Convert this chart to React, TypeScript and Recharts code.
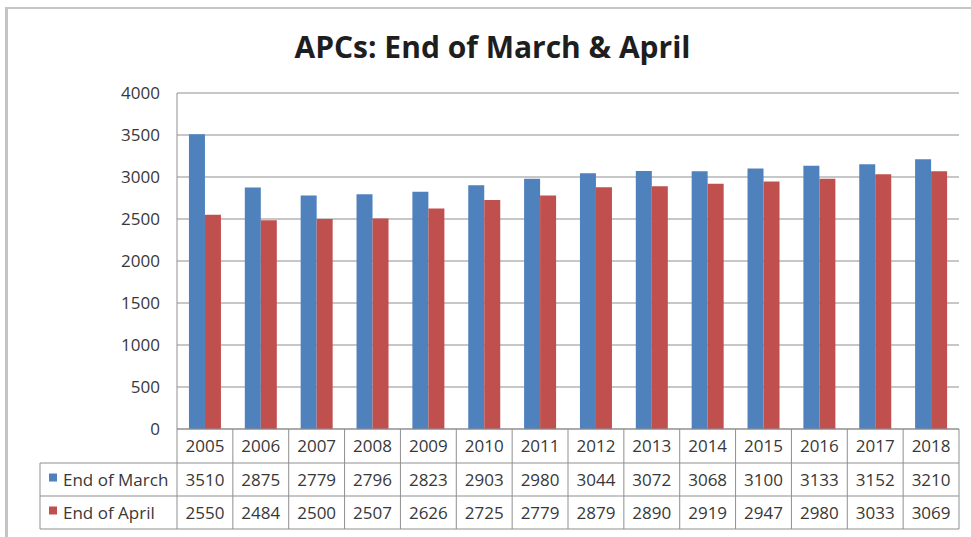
import { BarChart, Bar, YAxis, CartesianGrid } from 'recharts'

const years = ['2005', '2006', '2007', '2008', '2009', '2010', '2011', '2012', '2013', '2014', '2015', '2016', '2017', '2018']
const endOfMarch = [3510, 2875, 2779, 2796, 2823, 2903, 2980, 3044, 3072, 3068, 3100, 3133, 3152, 3210]
const endOfApril = [2550, 2484, 2500, 2507, 2626, 2725, 2779, 2879, 2890, 2919, 2947, 2980, 3033, 3069]
const yTicks = [0, 500, 1000, 1500, 2000, 2500, 3000, 3500, 4000]

const series = [
  { key: 'march', name: 'End of March', color: '#4f81bd', values: endOfMarch },
  { key: 'april', name: 'End of April', color: '#c0504d', values: endOfApril },
]

const data = years.map((year, i) => ({
  year,
  march: endOfMarch[i],
  april: endOfApril[i],
}))

// layout of the plot and the data table underneath
const W = 971
const H = 537
const PLOT_L = 177
const PLOT_R = 959
const PLOT_T = 93
const PLOT_B = 429
const LABEL_L = 40
const ROWS = [429, 463, 496, 529]
const COL_W = (PLOT_R - PLOT_L) / years.length
const FONT = '"Open Sans", sans-serif'
const FS = 17
const TEXT = '#383838'
const LINE = '#8f8f8f'

function DataTable() {
  const cx = (i: number) => PLOT_L + COL_W * i + COL_W / 2
  const rowMid = (r: number) => (ROWS[r] + ROWS[r + 1]) / 2
  return (
    <svg width={W} height={H} style={{ position: 'absolute', left: 0, top: 0, pointerEvents: 'none' }}>
      {/* horizontal rules */}
      <line x1={PLOT_L} x2={PLOT_R} y1={ROWS[0]} y2={ROWS[0]} stroke={LINE} />
      {ROWS.slice(1).map((y, i) => (
        <line key={`h-${i}`} x1={LABEL_L} x2={PLOT_R} y1={y} y2={y} stroke={LINE} />
      ))}
      {/* vertical rules */}
      <line x1={LABEL_L} x2={LABEL_L} y1={ROWS[1]} y2={ROWS[3]} stroke={LINE} />
      {Array.from({ length: years.length + 1 }).map((_, i) => (
        <line
          key={`v-${i}`}
          x1={PLOT_L + COL_W * i}
          x2={PLOT_L + COL_W * i}
          y1={ROWS[0]}
          y2={ROWS[3]}
          stroke={LINE}
        />
      ))}
      {years.map((y, i) => (
        <text key={`y-${y}`} x={cx(i)} y={rowMid(0) + 6} textAnchor="middle" fontSize={FS} fill={TEXT} fontFamily={FONT}>
          {y}
        </text>
      ))}
      {series.map((s, r) => (
        <g key={s.key}>
          <rect x={49} y={rowMid(r + 1) - 6} width={8} height={8} fill={s.color} />
          <text x={63} y={rowMid(r + 1) + 6} fontSize={FS} fill={TEXT} fontFamily={FONT}>{s.name}</text>
          {s.values.map((v, i) => (
            <text key={i} x={cx(i)} y={rowMid(r + 1) + 6} textAnchor="middle" fontSize={FS} fill={TEXT} fontFamily={FONT}>
              {v}
            </text>
          ))}
        </g>
      ))}
    </svg>
  )
}

export default function App() {
  return (
    <div style={{ position: 'absolute', left: 0, top: 0, width: W, height: H, background: '#fff', overflow: 'hidden' }}>
      {/* outer frame */}
      <div style={{ position: 'absolute', left: 5, top: 7, width: W, height: 2, background: '#c4c4c4' }} />
      <div style={{ position: 'absolute', left: 5, top: 7, width: 3, height: H, background: '#c4c4c4' }} />
      <div
        style={{
          position: 'absolute', left: 15, top: 27, width: W - 16, textAlign: 'center',
          fontFamily: FONT, fontWeight: 700, fontSize: 30, color: '#1e1e1e', lineHeight: '40px',
        }}
      >
        APCs: End of March &amp; April
      </div>
      <div style={{ position: 'absolute', left: 0, top: 0 }}>
        <BarChart
          width={W}
          height={H}
          data={data}
          margin={{ top: PLOT_T, right: W - PLOT_R, bottom: H - PLOT_B, left: PLOT_L - 60 }}
          barCategoryGap="21.4%"
          barGap={0}
        >
          <CartesianGrid vertical={false} stroke={LINE} />
          <YAxis
            width={60}
            domain={[0, 4000]}
            ticks={yTicks}
            interval={0}
            tickLine={false}
            axisLine={{ stroke: LINE }}
            tickMargin={11}
            tick={{ fill: TEXT, fontSize: FS, fontFamily: FONT }}
          />
          {series.map(s => (
            <Bar key={s.key} dataKey={s.key} name={s.name} fill={s.color} isAnimationActive={false} />
          ))}
        </BarChart>
      </div>
      <DataTable />
    </div>
  )
}
